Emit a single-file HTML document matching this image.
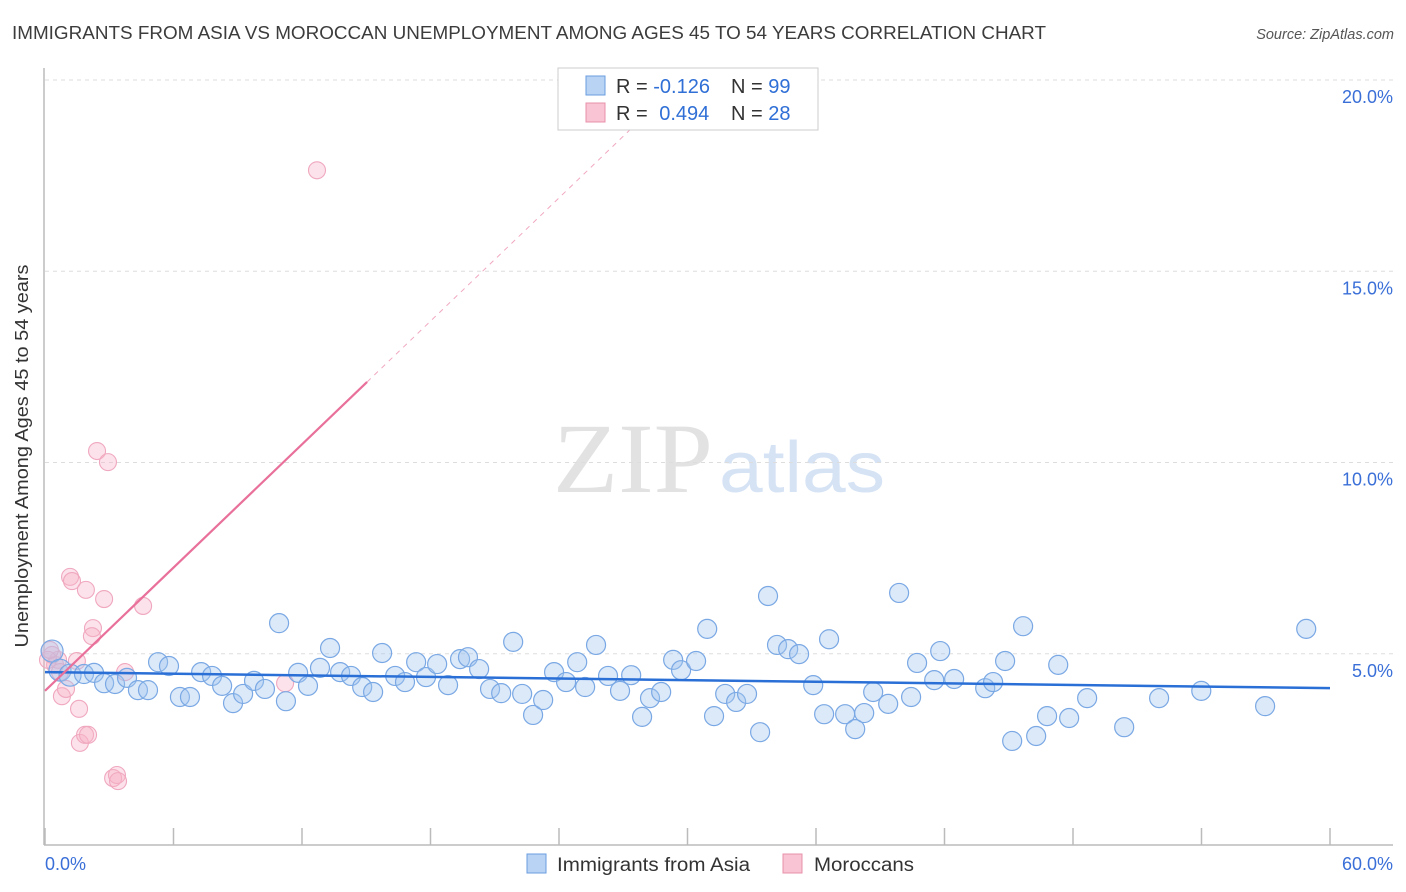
<!DOCTYPE html>
<html><head><meta charset="utf-8">
<style>
body{margin:0;background:#fff;font-family:"Liberation Sans",sans-serif;}
svg{display:block}
</style></head>
<body>
<svg id="chart" width="1406" height="892" xmlns="http://www.w3.org/2000/svg">
<text x="12" y="39" font-size="18" fill="#3c3c3c" textLength="1034" lengthAdjust="spacingAndGlyphs">IMMIGRANTS FROM ASIA VS MOROCCAN UNEMPLOYMENT AMONG AGES 45 TO 54 YEARS CORRELATION CHART</text>
<text x="1394" y="39" font-size="14.5" fill="#555" font-style="italic" text-anchor="end">Source: ZipAtlas.com</text>
<g>
<text x="553" y="492" font-family="Liberation Serif, serif" font-size="100" fill="#e2e2e2" textLength="160" lengthAdjust="spacingAndGlyphs">ZIP</text>
<text x="719" y="492" font-size="72" fill="#d5e3f5" textLength="166" lengthAdjust="spacingAndGlyphs">atlas</text>
</g>
<g id="grid"></g>
<line x1="44" y1="68" x2="44" y2="845" stroke="#bbb" stroke-width="1.5"/>
<line x1="44" y1="845" x2="1393" y2="845" stroke="#bbb" stroke-width="1.5"/>
<g id="xticks"></g>
<text x="28" y="456" font-size="18.5" fill="#333" text-anchor="middle" textLength="383" lengthAdjust="spacingAndGlyphs" transform="rotate(-90 28 456)">Unemployment Among Ages 45 to 54 years</text>
<text x="45" y="870" font-size="18" fill="#3a6fd8">0.0%</text>
<text x="1393" y="870" font-size="18" fill="#3a6fd8" text-anchor="end">60.0%</text>
<g id="pinkPts"></g>
<g id="bluePts"></g>
<g id="lines"></g>
<g>
<rect x="558" y="68" width="260" height="62" fill="#fff" stroke="#ccc"/>
<rect x="586" y="76" width="19" height="19" fill="#b9d3f5" stroke="#6a9de0"/>
<rect x="586" y="103" width="19" height="19" fill="#f9c4d3" stroke="#e890aa"/>
<text x="616" y="93" font-size="20" fill="#333">R = <tspan fill="#2f6fd6">-0.126</tspan></text>
<text x="731" y="93" font-size="20" fill="#333">N = <tspan fill="#2f6fd6">99</tspan></text>
<text x="616" y="120" font-size="20" fill="#333">R = <tspan fill="#2f6fd6" dx="6">0.494</tspan></text>
<text x="731" y="120" font-size="20" fill="#333">N = <tspan fill="#2f6fd6">28</tspan></text>
</g>
<g>
<rect x="527" y="854" width="19" height="19" fill="#b9d3f5" stroke="#6a9de0"/>
<text x="557" y="871" font-size="19" fill="#333" textLength="193" lengthAdjust="spacingAndGlyphs">Immigrants from Asia</text>
<rect x="783" y="854" width="19" height="19" fill="#f9c4d3" stroke="#e890aa"/>
<text x="814" y="871" font-size="19" fill="#333" textLength="100" lengthAdjust="spacingAndGlyphs">Moroccans</text>
</g>
</svg>
<script>
const yTicks=[5,10,15,20];
const yTickLabels=["5.0%","10.0%","15.0%","20.0%"];
const xTickValues=[0,6,12,18,24,30,36,42,48,54,60];
const blueX=[0.33,0.70,1.17,1.82,2.29,2.76,3.27,3.83,4.34,4.81,5.28,5.79,6.30,6.77,7.29,7.80,8.27,8.78,9.25,9.76,10.27,10.93,11.25,11.82,12.28,12.84,13.31,13.78,14.29,14.81,15.32,15.74,16.35,16.81,17.33,17.79,18.31,18.82,19.38,19.75,20.27,20.78,21.30,21.86,22.28,22.79,23.26,23.77,24.33,24.85,25.22,25.73,26.29,26.85,27.37,27.88,28.25,28.77,29.33,29.70,30.40,30.92,31.24,31.76,32.27,32.78,33.39,33.76,34.18,34.70,35.21,35.87,36.38,36.61,37.36,37.83,38.25,38.67,39.37,39.88,40.44,40.72,41.52,41.80,42.45,43.90,44.27,45.16,45.67,44.83,46.28,46.79,47.31,47.82,48.66,50.39,52.02,53.99,56.97,58.89];
const blueY=[5.07,4.57,4.44,4.47,4.50,4.23,4.21,4.37,4.05,4.05,4.78,4.68,3.87,3.87,4.52,4.42,4.16,3.71,3.95,4.29,4.08,5.80,3.76,4.50,4.16,4.63,5.15,4.52,4.42,4.13,4.00,5.02,4.42,4.26,4.78,4.39,4.73,4.18,4.86,4.91,4.60,4.08,3.97,5.31,3.95,3.40,3.79,4.52,4.26,4.78,4.13,5.23,4.42,4.03,4.44,3.35,3.84,4.00,4.84,4.57,4.81,5.65,3.37,3.95,3.74,3.95,2.95,6.51,5.23,5.12,4.99,4.18,3.42,5.38,3.42,3.03,3.45,4.00,3.69,6.59,3.87,4.76,4.31,5.07,4.34,4.10,4.26,2.72,5.72,4.81,2.85,3.37,4.71,3.32,3.84,3.08,3.84,4.03,3.63,5.65];
const pinkX=[0.33,0.47,0.61,0.79,0.98,0.70,1.17,1.26,1.49,1.59,1.63,1.87,2.01,1.91,2.24,2.19,2.43,2.76,2.94,3.18,3.36,3.41,3.74,4.58,11.21,12.70,0.14,0.23];
const pinkY=[4.97,4.71,4.84,3.89,4.08,4.52,7.01,6.90,4.81,3.56,2.67,2.88,2.88,6.67,5.67,5.46,10.30,6.43,10.01,1.75,1.83,1.67,4.52,6.25,4.23,17.64,4.84,5.10];
const blueTrend=[4.52,4.10];
const pinkTrend=[4.03,0.537];
const pinkSolidEnd=15.04, pinkDashEnd=27.8;

const NS="http://www.w3.org/2000/svg";
const X=v=>45+v/60*1285;
const Y=v=>845-v*38.25;
function mk(tag,attrs,parent){const e=document.createElementNS(NS,tag);for(const k in attrs)e.setAttribute(k,attrs[k]);parent.appendChild(e);return e;}
const grid=document.getElementById('grid');
yTicks.forEach((t,i)=>{
  const l=mk('line',{x1:45,x2:1393,y1:Y(t),y2:Y(t),stroke:'#ddd','stroke-dasharray':'4,4'},grid);
  
  
  const tx=mk('text',{x:1393,y:Y(t)+23,'font-size':18,fill:'#3a6fd8','text-anchor':'end'},grid);
  tx.textContent=yTickLabels[i];
  
  
});
const xt=document.getElementById('xticks');
xTickValues.forEach(v=>{
  const l=mk('line',{x1:X(v),x2:X(v),y1:828,y2:845,stroke:'#bbb','stroke-width':1.5},xt);
  
  
});
const bp=document.getElementById('bluePts');
blueX.forEach((x,i)=>{
  const r=(x<1.5)?11:9.5;
  const c=mk('circle',{cx:X(x),cy:Y(blueY[i]),r:r,fill:'rgba(160,196,240,0.38)',stroke:'#7aa8e4','stroke-width':1.2},bp);
  
  
});
const pp=document.getElementById('pinkPts');
pinkX.forEach((x,i)=>{
  const c=mk('circle',{cx:X(x),cy:Y(pinkY[i]),r:8.5,fill:'rgba(248,180,200,0.38)',stroke:'#f0a8bf','stroke-width':1.1},pp);
  
  
});
const lg=document.getElementById('lines');
const bl=mk('line',{x1:X(0),y1:Y(blueTrend[0]),x2:X(60),y2:Y(blueTrend[1]),stroke:'#2a6fd6','stroke-width':2.5},lg);


const ps=mk('line',{x1:X(0),y1:Y(pinkTrend[0]),x2:X(pinkSolidEnd),y2:Y(pinkTrend[0]+pinkTrend[1]*pinkSolidEnd),stroke:'#e8709a','stroke-width':2.2},lg);


const pd=mk('line',{x1:X(pinkSolidEnd),y1:Y(pinkTrend[0]+pinkTrend[1]*pinkSolidEnd),x2:X(pinkDashEnd),y2:Y(pinkTrend[0]+pinkTrend[1]*pinkDashEnd),stroke:'#f0a8c0','stroke-width':1,'stroke-dasharray':'5,5'},lg);


</script>
</body></html>
